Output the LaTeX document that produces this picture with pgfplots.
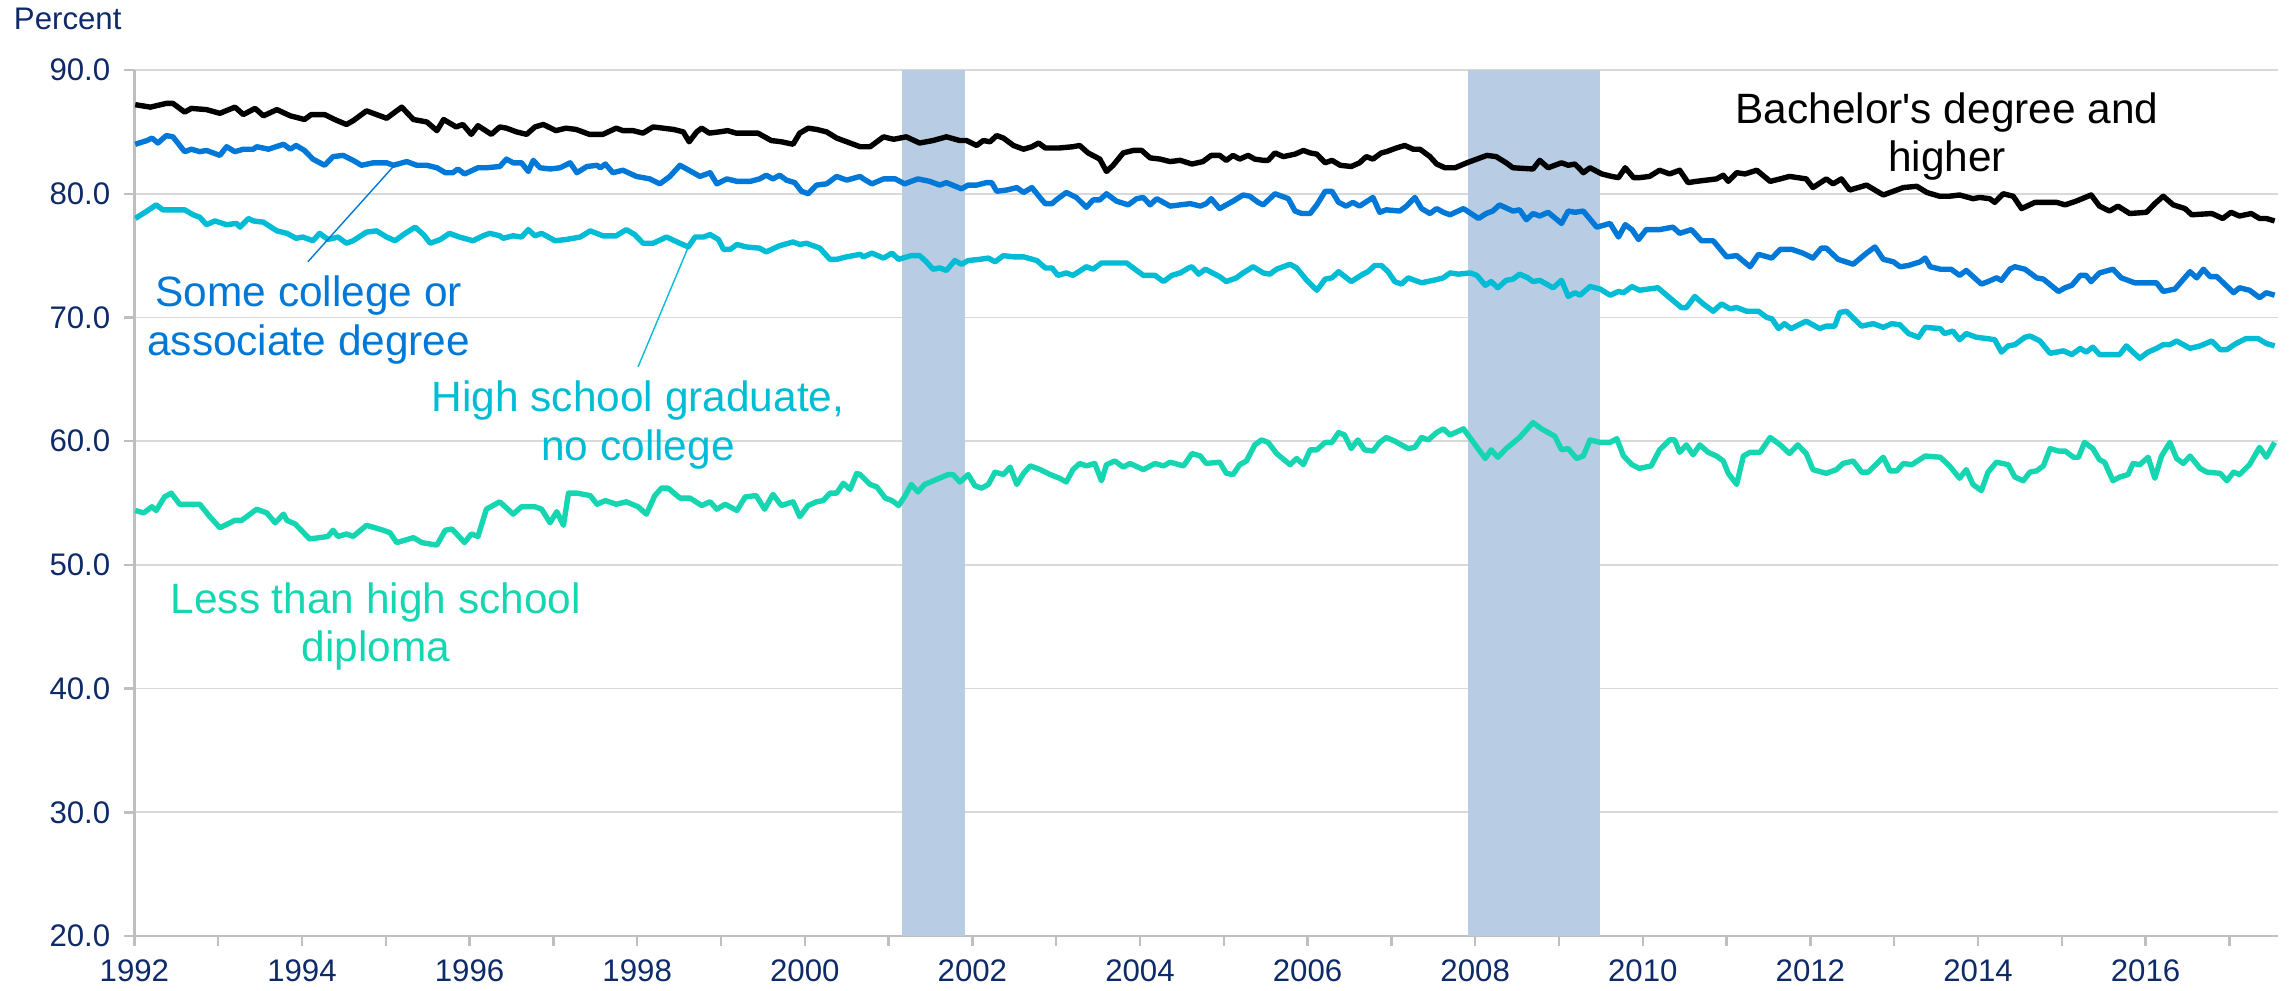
\documentclass[border=0pt]{standalone}
\usepackage{fontspec}
\setmainfont{Liberation Sans}
\usepackage{pgfplots}
\pgfplotsset{compat=1.18}
\definecolor{navy}{RGB}{14,42,104}
\definecolor{scblue}{RGB}{0,120,215}
\definecolor{hscyan}{RGB}{0,188,212}
\definecolor{lhgreen}{RGB}{22,214,178}
\definecolor{band}{RGB}{184,204,228}
\definecolor{gridgray}{RGB}{217,217,217}
\definecolor{axisgray}{RGB}{191,191,191}
\begin{document}
\begin{tikzpicture}
\path[use as bounding box] (-33.6pt,-13.5pt) rectangle (539.4pt,234pt);
\begin{axis}[
  scale only axis, width=535.9pt, height=216.5pt,
  xmin=1992, xmax=2017.58, ymin=20, ymax=90,
  axis x line*=bottom, axis y line*=left,
  axis line style={-, draw=axisgray, line width=0.6pt},
  xtick={1992,1994,...,2016},
  minor xtick={1993,1995,...,2017},
  ytick={20,30,...,90},
  tick align=outside,
  major tick length=2.5pt, minor tick length=2.5pt,
  every tick/.style={draw=axisgray, line width=0.6pt},
  ymajorgrids, grid style={draw=gridgray, line width=0.45pt},
  /pgf/number format/assume math mode=true,
  ticklabel style={font=\fontsize{7.8}{9}\selectfont, text=navy},
  xticklabel style={/pgf/number format/1000 sep={}},
  yticklabel style={/pgf/number format/.cd, fixed, fixed zerofill, precision=1},
  clip=true,
]
% recession bands
\addplot[fill=band, draw=none] coordinates {(2001.16,90) (2001.91,90)} \closedcycle;
\addplot[fill=band, draw=none] coordinates {(2007.91,90) (2009.49,90)} \closedcycle;

% Less than high school diploma
\addplot[lhgreen, line width=1.35pt, line join=round] coordinates {
(1992.01,54.4) (1992.11,54.2) (1992.21,54.7) (1992.26,54.4) (1992.36,55.5) (1992.44,55.8)
(1992.54,54.9) (1992.66,54.9) (1992.78,54.9) (1992.90,53.9) (1993.02,53.0) (1993.20,53.6)
(1993.28,53.6) (1993.46,54.5) (1993.58,54.2) (1993.68,53.4) (1993.78,54.1) (1993.82,53.6)
(1993.92,53.3) (1994.09,52.1) (1994.21,52.2) (1994.31,52.3) (1994.37,52.8) (1994.43,52.3)
(1994.53,52.5) (1994.61,52.3) (1994.77,53.2) (1994.97,52.8) (1995.05,52.6) (1995.13,51.8)
(1995.33,52.2) (1995.43,51.8) (1995.61,51.6) (1995.71,52.8) (1995.79,52.9) (1995.94,51.8)
(1996.02,52.5) (1996.10,52.3) (1996.20,54.5) (1996.36,55.1) (1996.52,54.1) (1996.62,54.7)
(1996.78,54.7) (1996.86,54.5) (1996.96,53.4) (1997.04,54.3) (1997.12,53.2) (1997.18,55.8)
(1997.28,55.8) (1997.44,55.6) (1997.52,54.9) (1997.62,55.2) (1997.75,54.9) (1997.87,55.1)
(1998.01,54.7) (1998.11,54.1) (1998.21,55.6) (1998.29,56.2) (1998.37,56.2) (1998.51,55.4)
(1998.63,55.4) (1998.77,54.8) (1998.87,55.1) (1998.95,54.5) (1999.05,54.9) (1999.19,54.4)
(1999.29,55.5) (1999.42,55.6) (1999.52,54.5) (1999.62,55.7) (1999.72,54.8) (1999.86,55.1)
(1999.94,53.9) (2000.04,54.8) (2000.14,55.1) (2000.22,55.2) (2000.30,55.8) (2000.38,55.8)
(2000.46,56.6) (2000.54,56.1) (2000.62,57.4) (2000.66,57.3) (2000.78,56.5) (2000.86,56.3)
(2000.96,55.4) (2001.04,55.2) (2001.12,54.8) (2001.19,55.5) (2001.27,56.5) (2001.35,55.9)
(2001.43,56.5) (2001.57,56.9) (2001.71,57.3) (2001.77,57.3) (2001.85,56.7) (2001.95,57.3)
(2002.03,56.4) (2002.11,56.2) (2002.19,56.5) (2002.27,57.5) (2002.37,57.3) (2002.45,57.9)
(2002.53,56.5) (2002.61,57.4) (2002.69,58.0) (2002.81,57.7) (2002.93,57.3) (2003.04,57.0)
(2003.12,56.7) (2003.20,57.7) (2003.28,58.2) (2003.36,58.0) (2003.46,58.2) (2003.54,56.8)
(2003.60,58.1) (2003.70,58.4) (2003.80,57.9) (2003.88,58.2) (2004.04,57.7) (2004.18,58.2)
(2004.28,58.0) (2004.36,58.3) (2004.52,58.0) (2004.62,59.0) (2004.72,58.8) (2004.79,58.2)
(2004.95,58.3) (2005.03,57.4) (2005.11,57.3) (2005.19,58.1) (2005.27,58.4) (2005.37,59.7)
(2005.45,60.1) (2005.53,59.9) (2005.63,59.0) (2005.79,58.1) (2005.87,58.6) (2005.95,58.1)
(2006.03,59.3) (2006.11,59.3) (2006.21,59.9) (2006.29,59.9) (2006.37,60.7) (2006.44,60.5)
(2006.52,59.4) (2006.60,60.1) (2006.68,59.3) (2006.78,59.2) (2006.86,59.9) (2006.94,60.3)
(2007.04,60.0) (2007.20,59.4) (2007.28,59.5) (2007.36,60.3) (2007.44,60.1) (2007.54,60.7)
(2007.62,61.0) (2007.70,60.5) (2007.86,61.0) (2008.12,58.6) (2008.19,59.3) (2008.27,58.7)
(2008.37,59.4) (2008.53,60.3) (2008.69,61.5) (2008.79,61.0) (2008.95,60.4) (2009.03,59.3)
(2009.11,59.4) (2009.21,58.6) (2009.29,58.8) (2009.37,60.1) (2009.49,59.9) (2009.61,59.9)
(2009.69,60.2) (2009.77,58.8) (2009.87,58.1) (2009.96,57.8) (2010.10,58.0) (2010.20,59.3)
(2010.32,60.1) (2010.38,60.1) (2010.44,59.1) (2010.52,59.7) (2010.60,58.9) (2010.68,59.7)
(2010.78,59.1) (2010.88,58.8) (2010.96,58.4) (2011.02,57.4) (2011.12,56.5) (2011.20,58.8)
(2011.28,59.1) (2011.40,59.1) (2011.52,60.3) (2011.64,59.7) (2011.75,59.0) (2011.85,59.7)
(2011.95,59.0) (2012.03,57.7) (2012.19,57.4) (2012.31,57.7) (2012.39,58.2) (2012.51,58.4)
(2012.61,57.5) (2012.69,57.5) (2012.87,58.7) (2012.95,57.6) (2013.03,57.6) (2013.11,58.2)
(2013.21,58.1) (2013.37,58.8) (2013.55,58.7) (2013.66,58.0) (2013.78,57.0) (2013.86,57.7)
(2013.94,56.5) (2014.04,56.0) (2014.12,57.5) (2014.22,58.3) (2014.36,58.1) (2014.44,57.1)
(2014.54,56.8) (2014.62,57.5) (2014.70,57.6) (2014.78,58.0) (2014.86,59.4) (2014.96,59.2)
(2015.04,59.2) (2015.14,58.7) (2015.20,58.7) (2015.27,59.9) (2015.37,59.4) (2015.45,58.5)
(2015.51,58.3) (2015.61,56.8) (2015.69,57.1) (2015.79,57.3) (2015.85,58.2) (2015.93,58.1)
(2016.03,58.7) (2016.11,57.0) (2016.19,58.8) (2016.29,59.9) (2016.37,58.6) (2016.45,58.2)
(2016.53,58.8) (2016.65,57.8) (2016.73,57.5) (2016.89,57.4) (2016.97,56.8) (2017.05,57.5)
(2017.12,57.3) (2017.24,58.1) (2017.36,59.5) (2017.44,58.7) (2017.54,59.9)
};

% High school graduate, no college
\addplot[hscyan, line width=1.35pt, line join=round] coordinates {
(1992.01,78.0) (1992.15,78.6) (1992.26,79.1) (1992.34,78.7) (1992.46,78.7) (1992.60,78.7)
(1992.70,78.3) (1992.78,78.1) (1992.86,77.5) (1992.96,77.8) (1993.10,77.5) (1993.22,77.6)
(1993.26,77.3) (1993.36,78.0) (1993.42,77.8) (1993.54,77.7) (1993.70,77.0) (1993.82,76.8)
(1993.93,76.4) (1994.01,76.5) (1994.13,76.2) (1994.21,76.8) (1994.31,76.3) (1994.43,76.5)
(1994.53,76.0) (1994.61,76.2) (1994.77,76.9) (1994.89,77.0) (1995.01,76.5) (1995.11,76.2)
(1995.21,76.7) (1995.35,77.3) (1995.45,76.7) (1995.53,76.0) (1995.65,76.3) (1995.76,76.8)
(1995.88,76.5) (1996.04,76.2) (1996.16,76.6) (1996.24,76.8) (1996.36,76.6) (1996.40,76.4)
(1996.52,76.6) (1996.62,76.5) (1996.70,77.1) (1996.78,76.6) (1996.86,76.8) (1997.02,76.2)
(1997.15,76.3) (1997.32,76.5) (1997.44,77.0) (1997.59,76.6) (1997.75,76.6) (1997.87,77.1)
(1997.97,76.7) (1998.07,76.0) (1998.19,76.0) (1998.35,76.5) (1998.51,76.0) (1998.61,75.7)
(1998.69,76.5) (1998.79,76.5) (1998.87,76.7) (1998.97,76.3) (1999.03,75.5) (1999.11,75.5)
(1999.19,75.9) (1999.30,75.7) (1999.46,75.6) (1999.54,75.3) (1999.70,75.8) (1999.86,76.1)
(1999.94,75.9) (2000.02,76.0) (2000.18,75.6) (2000.30,74.7) (2000.38,74.7) (2000.50,74.9)
(2000.66,75.1) (2000.70,74.9) (2000.80,75.2) (2000.94,74.8) (2001.04,75.2) (2001.12,74.7)
(2001.27,75.0) (2001.37,75.0) (2001.45,74.5) (2001.53,73.9) (2001.61,74.0) (2001.69,73.8)
(2001.79,74.6) (2001.87,74.3) (2001.95,74.6) (2002.09,74.7) (2002.19,74.8) (2002.27,74.5)
(2002.37,75.0) (2002.49,74.9) (2002.61,74.9) (2002.77,74.6) (2002.87,74.0) (2002.95,74.0)
(2003.02,73.4) (2003.12,73.6) (2003.20,73.4) (2003.36,74.1) (2003.44,73.9) (2003.54,74.4)
(2003.84,74.4) (2003.92,74.0) (2004.04,73.4) (2004.18,73.4) (2004.28,72.9) (2004.38,73.4)
(2004.48,73.6) (2004.58,74.0) (2004.62,74.1) (2004.70,73.5) (2004.78,73.9) (2004.95,73.3)
(2005.03,72.9) (2005.15,73.2) (2005.23,73.6) (2005.35,74.1) (2005.47,73.6) (2005.55,73.5)
(2005.63,73.9) (2005.79,74.3) (2005.87,74.0) (2005.99,73.0) (2006.11,72.2) (2006.21,73.1)
(2006.29,73.2) (2006.37,73.7) (2006.52,72.9) (2006.66,73.5) (2006.72,73.7) (2006.80,74.2)
(2006.88,74.2) (2006.96,73.7) (2007.04,72.9) (2007.12,72.7) (2007.20,73.2) (2007.36,72.8)
(2007.50,73.0) (2007.62,73.2) (2007.70,73.6) (2007.80,73.5) (2007.94,73.6) (2008.02,73.4)
(2008.12,72.6) (2008.19,72.9) (2008.27,72.4) (2008.37,73.0) (2008.45,73.1) (2008.53,73.5)
(2008.63,73.2) (2008.69,72.9) (2008.77,73.0) (2008.93,72.4) (2009.03,73.0) (2009.11,71.7)
(2009.19,72.0) (2009.25,71.8) (2009.37,72.5) (2009.49,72.3) (2009.61,71.8) (2009.71,72.1)
(2009.77,72.0) (2009.87,72.5) (2009.96,72.2) (2010.18,72.4) (2010.32,71.6) (2010.46,70.8)
(2010.52,70.8) (2010.62,71.7) (2010.72,71.1) (2010.84,70.5) (2010.94,71.1) (2011.04,70.7)
(2011.12,70.8) (2011.24,70.5) (2011.38,70.5) (2011.48,70.0) (2011.54,69.9) (2011.62,69.1)
(2011.69,69.5) (2011.77,69.1) (2011.95,69.7) (2012.11,69.1) (2012.19,69.3) (2012.29,69.3)
(2012.35,70.4) (2012.43,70.5) (2012.61,69.3) (2012.75,69.5) (2012.87,69.2) (2012.97,69.5)
(2013.07,69.4) (2013.17,68.7) (2013.29,68.4) (2013.37,69.2) (2013.55,69.1) (2013.60,68.7)
(2013.70,68.9) (2013.78,68.2) (2013.86,68.7) (2013.98,68.4) (2014.10,68.3) (2014.20,68.2)
(2014.28,67.2) (2014.36,67.7) (2014.44,67.8) (2014.56,68.4) (2014.62,68.5) (2014.74,68.1)
(2014.86,67.1) (2015.02,67.3) (2015.12,67.0) (2015.22,67.5) (2015.29,67.2) (2015.37,67.6)
(2015.45,67.0) (2015.69,67.0) (2015.77,67.7) (2015.93,66.7) (2016.03,67.2) (2016.13,67.5)
(2016.21,67.8) (2016.29,67.8) (2016.37,68.1) (2016.53,67.5) (2016.65,67.7) (2016.79,68.1)
(2016.89,67.4) (2016.97,67.4) (2017.08,67.9) (2017.20,68.3) (2017.34,68.3) (2017.44,67.9)
(2017.54,67.7)
};

% Some college or associate degree
\addplot[scblue, line width=1.35pt, line join=round] coordinates {
(1992.01,84.0) (1992.15,84.3) (1992.21,84.5) (1992.28,84.1) (1992.38,84.7) (1992.46,84.6)
(1992.60,83.4) (1992.68,83.6) (1992.78,83.4) (1992.86,83.5) (1993.02,83.1) (1993.10,83.8)
(1993.20,83.4) (1993.30,83.6) (1993.42,83.6) (1993.46,83.8) (1993.60,83.6) (1993.78,84.0)
(1993.86,83.6) (1993.93,83.9) (1994.03,83.5) (1994.13,82.8) (1994.27,82.3) (1994.37,83.0)
(1994.49,83.1) (1994.61,82.7) (1994.71,82.3) (1994.85,82.5) (1995.01,82.5) (1995.09,82.3)
(1995.25,82.6) (1995.37,82.3) (1995.49,82.3) (1995.61,82.1) (1995.71,81.7) (1995.80,81.7)
(1995.86,82.0) (1995.94,81.6) (1996.10,82.1) (1996.20,82.1) (1996.36,82.2) (1996.44,82.8)
(1996.52,82.5) (1996.62,82.5) (1996.70,81.8) (1996.76,82.7) (1996.84,82.1) (1996.96,82.0)
(1997.08,82.1) (1997.20,82.5) (1997.28,81.7) (1997.40,82.2) (1997.52,82.3) (1997.56,82.1)
(1997.62,82.4) (1997.71,81.7) (1997.83,81.9) (1997.99,81.4) (1998.15,81.2) (1998.27,80.8)
(1998.39,81.4) (1998.51,82.3) (1998.67,81.7) (1998.75,81.4) (1998.87,81.7) (1998.95,80.8)
(1999.07,81.2) (1999.19,81.0) (1999.35,81.0) (1999.46,81.2) (1999.54,81.5) (1999.62,81.2)
(1999.70,81.5) (1999.78,81.1) (1999.88,80.9) (1999.96,80.2) (2000.04,80.0) (2000.14,80.7)
(2000.26,80.8) (2000.38,81.4) (2000.50,81.1) (2000.66,81.4) (2000.70,81.2) (2000.80,80.8)
(2000.94,81.2) (2001.08,81.2) (2001.19,80.8) (2001.35,81.2) (2001.49,81.0) (2001.61,80.7)
(2001.69,80.9) (2001.87,80.4) (2001.95,80.7) (2002.05,80.7) (2002.17,80.9) (2002.23,80.9)
(2002.29,80.2) (2002.41,80.3) (2002.53,80.5) (2002.61,80.1) (2002.71,80.5) (2002.83,79.5)
(2002.87,79.2) (2002.95,79.2) (2003.00,79.5) (2003.12,80.1) (2003.24,79.7) (2003.36,78.9)
(2003.44,79.5) (2003.52,79.5) (2003.60,80.0) (2003.72,79.4) (2003.86,79.1) (2003.96,79.6)
(2004.04,79.7) (2004.12,79.1) (2004.20,79.6) (2004.36,79.0) (2004.60,79.2) (2004.72,79.0)
(2004.79,79.2) (2004.85,79.6) (2004.95,78.8) (2005.11,79.4) (2005.23,79.9) (2005.31,79.8)
(2005.41,79.3) (2005.47,79.1) (2005.61,80.0) (2005.77,79.6) (2005.85,78.6) (2005.93,78.4)
(2006.03,78.4) (2006.11,79.1) (2006.21,80.2) (2006.29,80.2) (2006.37,79.3) (2006.46,79.0)
(2006.54,79.3) (2006.62,79.0) (2006.78,79.7) (2006.86,78.5) (2006.94,78.7) (2007.10,78.6)
(2007.18,79.0) (2007.28,79.7) (2007.36,78.8) (2007.46,78.4) (2007.54,78.8) (2007.62,78.5)
(2007.70,78.3) (2007.86,78.8) (2008.04,78.0) (2008.13,78.4) (2008.21,78.6) (2008.29,79.1)
(2008.45,78.6) (2008.53,78.7) (2008.61,77.9) (2008.69,78.4) (2008.77,78.2) (2008.87,78.5)
(2009.03,77.6) (2009.11,78.6) (2009.19,78.5) (2009.29,78.6) (2009.45,77.3) (2009.61,77.6)
(2009.71,76.5) (2009.79,77.5) (2009.87,77.1) (2009.95,76.3) (2010.04,77.1) (2010.20,77.1)
(2010.36,77.3) (2010.44,76.8) (2010.58,77.1) (2010.70,76.2) (2010.84,76.2) (2011.00,74.9)
(2011.12,75.0) (2011.28,74.1) (2011.38,75.1) (2011.54,74.8) (2011.64,75.5) (2011.78,75.5)
(2011.91,75.2) (2012.03,74.8) (2012.13,75.6) (2012.19,75.6) (2012.33,74.7) (2012.51,74.3)
(2012.67,75.2) (2012.77,75.7) (2012.87,74.7) (2012.99,74.5) (2013.07,74.1) (2013.17,74.2)
(2013.31,74.5) (2013.37,74.8) (2013.43,74.1) (2013.55,73.9) (2013.68,73.9) (2013.78,73.4)
(2013.86,73.8) (2014.04,72.7) (2014.12,72.9) (2014.22,73.2) (2014.28,73.0) (2014.38,73.9)
(2014.44,74.1) (2014.56,73.9) (2014.70,73.2) (2014.78,73.1) (2014.96,72.1) (2015.04,72.4)
(2015.12,72.6) (2015.22,73.4) (2015.29,73.4) (2015.35,72.9) (2015.45,73.6) (2015.61,73.9)
(2015.71,73.2) (2015.87,72.8) (2015.97,72.8) (2016.13,72.8) (2016.21,72.1) (2016.35,72.3)
(2016.53,73.7) (2016.61,73.2) (2016.69,73.9) (2016.77,73.3) (2016.85,73.3) (2017.05,72.0)
(2017.12,72.4) (2017.24,72.2) (2017.36,71.6) (2017.44,72.0) (2017.54,71.8)
};

% Bachelor's degree and higher
\addplot[black, line width=1.35pt, line join=round] coordinates {
(1992.01,87.2) (1992.19,87.0) (1992.38,87.3) (1992.46,87.3) (1992.60,86.6) (1992.68,86.9)
(1992.86,86.8) (1993.02,86.5) (1993.20,87.0) (1993.30,86.4) (1993.44,86.9) (1993.54,86.3)
(1993.70,86.8) (1993.86,86.3) (1994.03,86.0) (1994.11,86.4) (1994.27,86.4) (1994.39,86.0)
(1994.53,85.6) (1994.61,85.9) (1994.77,86.7) (1994.89,86.4) (1995.01,86.1) (1995.19,87.0)
(1995.33,86.0) (1995.49,85.8) (1995.61,85.1) (1995.69,86.0) (1995.84,85.4) (1995.92,85.6)
(1996.02,84.8) (1996.10,85.5) (1996.26,84.8) (1996.36,85.4) (1996.44,85.3) (1996.56,85.0)
(1996.68,84.8) (1996.78,85.4) (1996.88,85.6) (1997.03,85.1) (1997.15,85.3) (1997.27,85.2)
(1997.43,84.8) (1997.59,84.8) (1997.75,85.3) (1997.83,85.1) (1997.95,85.1) (1998.07,84.9)
(1998.19,85.4) (1998.31,85.3) (1998.43,85.2) (1998.55,85.0) (1998.62,84.2) (1998.71,85.0)
(1998.77,85.3) (1998.86,84.9) (1998.98,85.0) (1999.08,85.1) (1999.18,84.9) (1999.30,84.9)
(1999.44,84.9) (1999.60,84.3) (1999.72,84.2) (1999.86,84.0) (1999.94,84.9) (2000.04,85.3)
(2000.14,85.2) (2000.26,85.0) (2000.38,84.5) (2000.50,84.2) (2000.66,83.8) (2000.78,83.8)
(2000.94,84.6) (2001.06,84.4) (2001.21,84.6) (2001.37,84.1) (2001.53,84.3) (2001.69,84.6)
(2001.85,84.3) (2001.93,84.3) (2002.05,83.9) (2002.13,84.3) (2002.21,84.2) (2002.29,84.7)
(2002.37,84.5) (2002.49,83.9) (2002.61,83.6) (2002.71,83.8) (2002.79,84.1) (2002.87,83.7)
(2003.04,83.7) (2003.20,83.8) (2003.28,83.9) (2003.38,83.3) (2003.52,82.8) (2003.60,81.8)
(2003.68,82.3) (2003.80,83.3) (2003.92,83.5) (2004.02,83.5) (2004.12,82.9) (2004.24,82.8)
(2004.36,82.6) (2004.48,82.7) (2004.62,82.4) (2004.75,82.6) (2004.85,83.1) (2004.95,83.1)
(2005.03,82.7) (2005.11,83.1) (2005.19,82.8) (2005.29,83.1) (2005.37,82.8) (2005.47,82.7)
(2005.53,82.7) (2005.61,83.3) (2005.71,83.0) (2005.85,83.2) (2005.95,83.5) (2006.03,83.3)
(2006.11,83.2) (2006.21,82.5) (2006.29,82.7) (2006.39,82.3) (2006.52,82.2) (2006.62,82.5)
(2006.70,83.0) (2006.78,82.8) (2006.88,83.3) (2006.94,83.4) (2007.06,83.7) (2007.16,83.9)
(2007.26,83.6) (2007.34,83.6) (2007.46,83.0) (2007.54,82.4) (2007.64,82.1) (2007.76,82.1)
(2007.90,82.5) (2008.02,82.8) (2008.14,83.1) (2008.25,83.0) (2008.37,82.5) (2008.45,82.1)
(2008.69,82.0) (2008.77,82.7) (2008.87,82.1) (2009.03,82.5) (2009.11,82.3) (2009.19,82.4)
(2009.25,82.0) (2009.29,81.7) (2009.37,82.1) (2009.51,81.6) (2009.63,81.4) (2009.71,81.3)
(2009.79,82.1) (2009.89,81.3) (2009.96,81.3) (2010.08,81.4) (2010.20,81.9) (2010.32,81.6)
(2010.44,81.9) (2010.54,80.9) (2010.64,81.0) (2010.76,81.1) (2010.88,81.2) (2010.96,81.5)
(2011.02,81.0) (2011.12,81.7) (2011.22,81.6) (2011.36,81.9) (2011.52,81.0) (2011.64,81.2)
(2011.75,81.4) (2011.95,81.2) (2012.03,80.5) (2012.19,81.2) (2012.27,80.8) (2012.37,81.2)
(2012.47,80.3) (2012.67,80.7) (2012.87,79.9) (2012.99,80.2) (2013.11,80.5) (2013.27,80.6)
(2013.39,80.1) (2013.54,79.8) (2013.66,79.8) (2013.78,79.9) (2013.94,79.6) (2014.02,79.7)
(2014.14,79.6) (2014.20,79.3) (2014.30,80.0) (2014.42,79.8) (2014.52,78.8) (2014.68,79.3)
(2014.82,79.3) (2014.94,79.3) (2015.04,79.1) (2015.17,79.4) (2015.35,79.9) (2015.45,79.0)
(2015.57,78.6) (2015.67,79.0) (2015.81,78.4) (2016.01,78.5) (2016.11,79.2) (2016.21,79.8)
(2016.33,79.1) (2016.47,78.8) (2016.55,78.3) (2016.79,78.4) (2016.92,78.0) (2017.02,78.5)
(2017.12,78.2) (2017.26,78.4) (2017.36,78.0) (2017.44,78.0) (2017.54,77.8)
};

% leader lines
\addplot[scblue, line width=0.35pt] coordinates {(1994.07,74.5) (1995.09,82.2)};
\addplot[hscyan, line width=0.35pt] coordinates {(1998.01,66.0) (1998.61,75.7)};

% labels
\begin{scope}[every node/.style={font=\fontsize{10.6}{12}\selectfont, anchor=base, inner sep=0pt}]
\node[text=black] at (axis cs:2013.63,85.7) {Bachelor\textquotesingle s degree and};
\node[text=black] at (axis cs:2013.63,81.8) {higher};
\node[text=scblue] at (axis cs:1994.08,70.9) {Some college or};
\node[text=scblue] at (axis cs:1994.08,66.9) {associate degree};
\node[text=hscyan] at (axis cs:1998.01,62.4) {High school graduate,};
\node[text=hscyan] at (axis cs:1998.01,58.4) {no college};
\node[text=lhgreen] at (axis cs:1994.88,46.1) {Less than high school};
\node[text=lhgreen] at (axis cs:1994.88,42.2) {diploma};
\end{scope}
\end{axis}
\node[anchor=base west, inner sep=0pt, font=\fontsize{7.8}{9}\selectfont, text=navy] at (-30.3pt,226.7pt) {Percent};
\end{tikzpicture}
\end{document}
